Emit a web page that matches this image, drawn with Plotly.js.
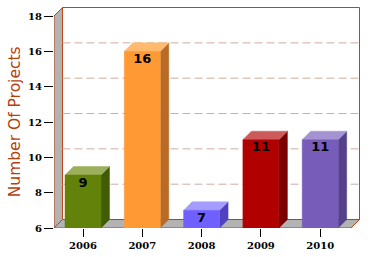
<!DOCTYPE html>
<html>
<head>
<meta charset="utf-8">
<script src="https://cdn.plot.ly/plotly-3.0.1.min.js"></script>
<style>html,body{margin:0;padding:0;background:#fff;}#chart{width:380px;height:257px;}</style>
</head>
<body>
<div id="chart"></div>
<script>
// ---- data ----
var years = ["2006", "2007", "2008", "2009", "2010"];
var projects = [9, 16, 7, 11, 11];
var frontColors = ["#628209", "#ff9933", "#7060ff", "#b00000", "#775cba"];
var topColors   = ["#9cb05c", "#ffba6e", "#a59cff", "#cd5a5a", "#a493d3"];
var sideColors  = ["#415c06", "#b86b26", "#4e42bf", "#7a0000", "#54418a"];
var yTickVals = [6, 8, 10, 12, 14, 16, 18];
var yTitle = "Number Of Projects";

// ---- geometry (in axis units) ----
var yMin = 6, yMax = 18;
var dx = 0.143, dy = 0.48;           // 3D depth offset
var xL = -0.489, xR = 4.52;          // front floor extent
var halfW = 0.3035;                  // bar half width
var xRange = [xL, 4.671];
var yRange = [yMin, 18.566];
var brown = "#c0400f", wallGray = "#b3b3b3";

function pathOf(xs, ys) {
  var s = "M" + xs[0] + "," + ys[0];
  for (var k = 1; k < xs.length; k++) s += " L" + xs[k] + "," + ys[k];
  return s + " Z";
}
var shapes = [];
function wall(xs, ys, fill, lw) {
  shapes.push({type: "path", xref: "x", yref: "y", layer: "below", path: pathOf(xs, ys),
    fillcolor: fill, opacity: 1, line: {color: brown, width: lw}});
}
function edge(x0, y0, x1, y1) {
  shapes.push({type: "line", xref: "x", yref: "y", layer: "below", x0: x0, y0: y0, x1: x1, y1: y1,
    line: {color: brown, width: 1}});
}
// left wall, back wall, floor
wall([xL, xL + dx, xL + dx, xL], [yMin, yMin + dy, yMax + dy, yMax], wallGray, 0);
wall([xL + dx, xR + dx, xR + dx, xL + dx], [yMin + dy, yMin + dy, yMax + dy, yMax + dy], "#ffffff", 1);
edge(xL, yMin, xL, yMax);
edge(xL, yMax, xL + dx, yMax + dy);
// grid lines on back wall
yTickVals.forEach(function (v) {
  if (v <= yMin || v >= yMax) return;
  shapes.push({type: "line", xref: "x", yref: "y", layer: "below", x0: xL + dx, x1: xR + dx,
    y0: v + dy, y1: v + dy, line: {color: "#cfae9c", width: 1, dash: "8px,4px"}});
});
wall([xL, xR, xR + dx, xL + dx], [yMin, yMin, yMin + dy, yMin + dy], wallGray, 1);

var traces = [];
function poly(xs, ys, fill) {
  traces.push({type: "scatter", mode: "lines", x: xs.concat([xs[0]]), y: ys.concat([ys[0]]),
    fill: "toself", fillcolor: fill, line: {color: fill, width: 0.5},
    hoverinfo: "skip", showlegend: false});
}
// bars
years.forEach(function (yr, i) {
  var v = projects[i], a = i - halfW, b = i + halfW;
  poly([b, b + dx, b + dx, b], [yMin, yMin + dy, v + dy, v], sideColors[i]);
  poly([a, b, b + dx, a + dx], [v, v, v + dy, v + dy], topColors[i]);
  poly([a, b, b, a], [yMin, yMin, v, v], frontColors[i]);
});
// value labels
traces.push({type: "scatter", mode: "text", x: years.map(function (_, i) { return i; }),
  y: projects.map(function (v) { return v - 0.47; }), text: projects.map(String),
  textposition: "middle center", textfont: {family: "DejaVu Sans", size: 13, color: "#000", weight: "bold"},
  hoverinfo: "skip", showlegend: false, cliponaxis: false});

var tickFont = {family: "DejaVu Serif", size: 10, color: "#000", weight: "bold"};
var layout = {
  width: 380, height: 257,
  margin: {l: 54, r: 20, t: 6, b: 29, pad: 0},
  paper_bgcolor: "#fff", plot_bgcolor: "rgba(0,0,0,0)",
  showlegend: false,
  xaxis: {range: xRange, tickvals: [0, 1, 2, 3, 4], ticktext: years, ticks: "outside", ticklen: 8,
    tickcolor: "#000", tickwidth: 1, showgrid: false, zeroline: false, showline: false, fixedrange: true,
    tickfont: tickFont},
  yaxis: {range: yRange, tickvals: yTickVals, ticks: "outside", ticklen: 9, tickcolor: "#000", tickwidth: 1,
    showgrid: false, zeroline: false, showline: false, fixedrange: true,
    tickfont: tickFont},
  shapes: shapes,
  annotations: [{text: yTitle, xref: "paper", yref: "paper", x: -0.127, y: 0.477, xanchor: "center",
    yanchor: "middle", textangle: -90, showarrow: false,
    font: {family: "DejaVu Sans", size: 15.5, color: "#b5400a"}}]
};
Plotly.newPlot("chart", traces, layout, {displayModeBar: false, staticPlot: true});
</script>
</body>
</html>
